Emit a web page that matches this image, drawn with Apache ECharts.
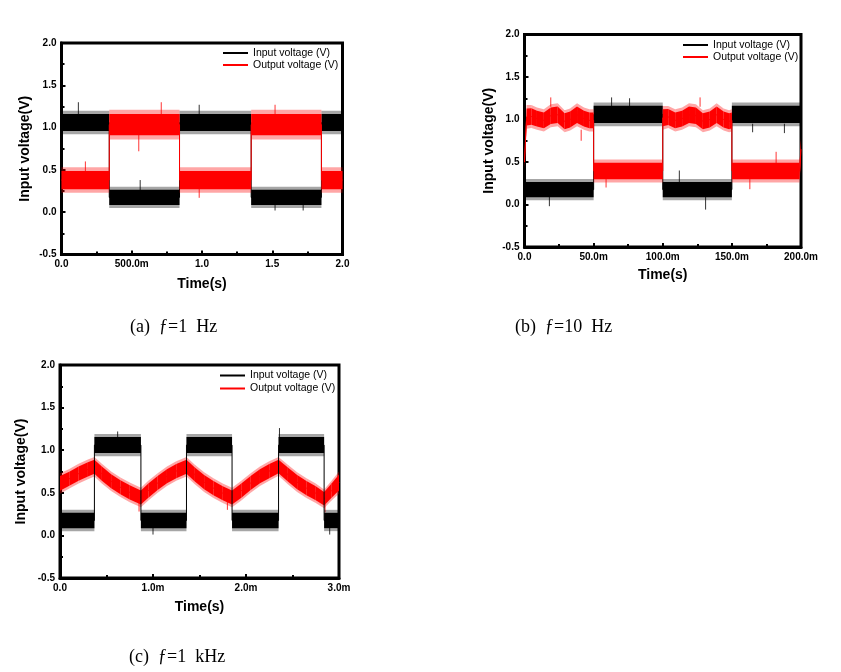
<!DOCTYPE html>
<html>
<head>
<meta charset="utf-8">
<script src="https://cdn.jsdelivr.net/npm/echarts@6/dist/echarts.min.js"></script>
<style>html,body{margin:0;padding:0;background:#fff;}#c{width:841px;height:672px;}</style>
</head>
<body>
<div id="c"></div>
<script>
// ---------- DATA ----------
const yTickLabels = ['-0.5', '0.0', '0.5', '1.0', '1.5', '2.0'];
const seriesNames = ['Input voltage (V)', 'Output voltage (V)'];
const captions = ['(a)  \u0192=1  Hz', '(b)  \u0192=10  Hz', '(c)  \u0192=1  kHz'];

// (a) f = 1 Hz, time in s ; noise envelope low/high in V
const aXLabels = ['0.0', '500.0m', '1.0', '1.5', '2.0'];
const aInT  = [0, 0.34, 0.34, 0.84, 0.84, 1.35, 1.35, 1.85, 1.85, 2.0];
const aInLo = [0.92, 0.92, 0.05, 0.05, 0.92, 0.92, 0.05, 0.05, 0.92, 0.92];
const aInHi = [1.20, 1.20, 0.30, 0.30, 1.20, 1.20, 0.30, 0.30, 1.20, 1.20];
const aOutT  = [0, 0.34, 0.34, 0.84, 0.84, 1.35, 1.35, 1.85, 1.85, 2.0];
const aOutLo = [0.23, 0.23, 0.86, 0.86, 0.23, 0.23, 0.86, 0.86, 0.23, 0.23];
const aOutHi = [0.53, 0.53, 1.21, 1.21, 0.53, 0.53, 1.21, 1.21, 0.53, 0.53];
// isolated noise spikes: time, from V, to V
const aInSpikeT = [0.12, 0.56, 0.98, 1.52, 1.72];
const aInSpikeA = [1.15, 0.25, 1.15, 0.10, 0.10];
const aInSpikeB = [1.30, 0.38, 1.27, 0.02, 0.02];
const aOutSpikeT = [0.17, 0.55, 0.71, 0.98, 1.52];
const aOutSpikeA = [0.45, 0.92, 1.15, 0.30, 1.15];
const aOutSpikeB = [0.60, 0.72, 1.30, 0.17, 1.27];

// (b) f = 10 Hz, time in ms
const bXLabels = ['0.0', '50.0m', '100.0m', '150.0m', '200.0m'];
const bInT  = [0, 50, 50, 100, 100, 150, 150, 200];
const bInLo = [0.05, 0.05, 0.92, 0.92, 0.05, 0.05, 0.92, 0.92];
const bInHi = [0.30, 0.30, 1.20, 1.20, 0.30, 0.30, 1.20, 1.20];
const bOutT  = [0, 1.5, 5, 9, 14, 19, 24, 29, 33, 38, 43, 47, 50, 50, 100, 100, 104, 109, 114, 119, 124, 129, 134, 139, 144, 148, 150, 150, 199, 200];
const bOutLo = [0.42, 0.89, 0.90, 0.88, 0.86, 0.91, 0.92, 0.85, 0.87, 0.92, 0.88, 0.86, 0.86, 0.26, 0.26, 0.88, 0.90, 0.86, 0.88, 0.92, 0.91, 0.85, 0.87, 0.92, 0.87, 0.85, 0.86, 0.26, 0.26, 0.50];
const bOutHi = [0.58, 1.17, 1.17, 1.14, 1.12, 1.18, 1.19, 1.11, 1.13, 1.19, 1.14, 1.12, 1.12, 0.53, 0.53, 1.16, 1.16, 1.12, 1.14, 1.19, 1.18, 1.11, 1.13, 1.19, 1.13, 1.11, 1.12, 0.53, 0.53, 0.80];
const bInSpikeT = [18, 63, 76, 112, 131, 165, 188];
const bInSpikeA = [0.10, 1.15, 1.15, 0.25, 0.10, 0.95, 0.95];
const bInSpikeB = [-0.02, 1.26, 1.25, 0.40, -0.06, 0.85, 0.84];
const bOutSpikeT = [19, 41, 59, 127, 163, 182];
const bOutSpikeA = [1.15, 0.88, 0.30, 1.15, 0.30, 0.48];
const bOutSpikeB = [1.26, 0.75, 0.20, 1.26, 0.18, 0.62];

// (c) f = 1 kHz, time in ms
const cXLabels = ['0.0', '1.0m', '2.0m', '3.0m'];
const cInT  = [0, 0.37, 0.37, 0.87, 0.87, 1.36, 1.36, 1.85, 1.85, 2.35, 2.35, 2.84, 2.84, 3.0];
const cInLo = [0.05, 0.05, 0.93, 0.93, 0.05, 0.05, 0.93, 0.93, 0.05, 0.05, 0.93, 0.93, 0.05, 0.05];
const cInHi = [0.30, 0.30, 1.19, 1.19, 0.30, 0.30, 1.19, 1.19, 0.30, 0.30, 1.19, 1.19, 0.30, 0.30];
const cOutT  = [0, 0.1, 0.2, 0.3, 0.37, 0.45, 0.55, 0.65, 0.75, 0.87, 0.95, 1.05, 1.15, 1.25, 1.36, 1.45, 1.55, 1.65, 1.75, 1.85, 1.95, 2.05, 2.15, 2.25, 2.35, 2.45, 2.55, 2.65, 2.75, 2.84, 2.92, 3.0];
const cOutLo = [0.49, 0.55, 0.61, 0.66, 0.69, 0.61, 0.52, 0.45, 0.39, 0.33, 0.41, 0.50, 0.58, 0.64, 0.69, 0.60, 0.51, 0.44, 0.38, 0.33, 0.41, 0.50, 0.58, 0.64, 0.70, 0.60, 0.51, 0.44, 0.38, 0.32, 0.41, 0.49];
const cOutHi = [0.73, 0.78, 0.84, 0.89, 0.92, 0.84, 0.75, 0.68, 0.62, 0.56, 0.64, 0.73, 0.81, 0.87, 0.92, 0.83, 0.74, 0.67, 0.61, 0.56, 0.64, 0.73, 0.81, 0.87, 0.92, 0.83, 0.74, 0.67, 0.61, 0.54, 0.64, 0.75];
const cInSpikeT = [0.62, 1.0, 2.36, 2.9];
const cInSpikeA = [1.15, 0.10, 1.15, 0.10];
const cInSpikeB = [1.22, 0.01, 1.26, 0.01];
const cOutSpikeT = [0.85, 1.8, 2.85];
const cOutSpikeA = [0.40, 0.40, 0.40];
const cOutSpikeB = [0.28, 0.30, 0.27];

// ---------- CHART ----------
const FONT = 'Liberation Sans';
const BLACK = '#000000', RED = '#ff0000';
const grids = [
  {left: 61.5, top: 43, width: 281, height: 211.5},
  {left: 524.5, top: 34.5, width: 276.5, height: 212.5},
  {left: 60, top: 365, width: 279, height: 213}
];
const xCfg = [
  {max: 2, interval: 0.5, labels: aXLabels, gap: 23},
  {max: 200, interval: 50, labels: bXLabels, gap: 21},
  {max: 3, interval: 1, labels: cXLabels, gap: 22}
];
const yGap = [29, 28, 32];

function bandSeries(name, gi, T, Lo, Hi, color, z) {
  return {
    type: 'custom', name: name, xAxisIndex: gi, yAxisIndex: gi, z: z, clip: true,
    itemStyle: {color: color},
    data: T.slice(0, -1).map((t, i) => [t, T[i + 1], Lo[i], Hi[i], Lo[i + 1], Hi[i + 1]]),
    encode: {x: [0, 1], y: [2, 3, 4, 5]},
    renderItem: function (params, api) {
      const t0 = api.value(0), t1 = api.value(1);
      if (!(t1 > t0)) return null;
      const l0 = api.value(2), h0 = api.value(3), l1 = api.value(4), h1 = api.value(5);
      const m0 = (l0 + h0) / 2, m1 = (l1 + h1) / 2, k = 0.72;
      const outer = [api.coord([t0, l0]), api.coord([t1, l1]), api.coord([t1, h1]), api.coord([t0, h0])];
      const inner = [api.coord([t0, m0 - (h0 - l0) / 2 * k]), api.coord([t1, m1 - (h1 - l1) / 2 * k]),
                     api.coord([t1, m1 + (h1 - l1) / 2 * k]), api.coord([t0, m0 + (h0 - l0) / 2 * k])];
      return {type: 'group', children: [
        {type: 'polygon', shape: {points: outer}, style: {fill: color, opacity: 0.35}},
        {type: 'polygon', shape: {points: inner}, style: {fill: color}}
      ]};
    }
  };
}
function midSeries(name, gi, T, Lo, Hi, color, z) {
  return {
    type: 'line', name: name, xAxisIndex: gi, yAxisIndex: gi, z: z,
    showSymbol: false, symbol: 'none', animation: false,
    lineStyle: {color: color, width: 1}, itemStyle: {color: color},
    data: T.map((t, i) => [t, (Lo[i] + Hi[i]) / 2])
  };
}
function spikeSeries(name, gi, T, A, B, color, z) {
  return {
    type: 'custom', name: name, xAxisIndex: gi, yAxisIndex: gi, z: z, clip: true,
    itemStyle: {color: color},
    data: T.map((t, i) => [t, A[i], B[i]]),
    encode: {x: 0, y: [1, 2]},
    renderItem: function (params, api) {
      const p0 = api.coord([api.value(0), api.value(1)]);
      const p1 = api.coord([api.value(0), api.value(2)]);
      return {type: 'line', shape: {x1: p0[0], y1: p0[1], x2: p1[0], y2: p1[1]},
              style: {stroke: color, lineWidth: 1, opacity: 0.8}};
    }
  };
}

const series = [
  bandSeries(seriesNames[0], 0, aInT, aInLo, aInHi, BLACK, 2), midSeries(seriesNames[0], 0, aInT, aInLo, aInHi, BLACK, 2),
  spikeSeries(seriesNames[0], 0, aInSpikeT, aInSpikeA, aInSpikeB, BLACK, 2),
  bandSeries(seriesNames[1], 0, aOutT, aOutLo, aOutHi, RED, 3), midSeries(seriesNames[1], 0, aOutT, aOutLo, aOutHi, RED, 3),
  spikeSeries(seriesNames[1], 0, aOutSpikeT, aOutSpikeA, aOutSpikeB, RED, 3),
  bandSeries(seriesNames[0], 1, bInT, bInLo, bInHi, BLACK, 2), midSeries(seriesNames[0], 1, bInT, bInLo, bInHi, BLACK, 2),
  spikeSeries(seriesNames[0], 1, bInSpikeT, bInSpikeA, bInSpikeB, BLACK, 2),
  bandSeries(seriesNames[1], 1, bOutT, bOutLo, bOutHi, RED, 3), midSeries(seriesNames[1], 1, bOutT, bOutLo, bOutHi, RED, 3),
  spikeSeries(seriesNames[1], 1, bOutSpikeT, bOutSpikeA, bOutSpikeB, RED, 3),
  bandSeries(seriesNames[1], 2, cOutT, cOutLo, cOutHi, RED, 2), midSeries(seriesNames[1], 2, cOutT, cOutLo, cOutHi, RED, 2),
  spikeSeries(seriesNames[1], 2, cOutSpikeT, cOutSpikeA, cOutSpikeB, RED, 2),
  bandSeries(seriesNames[0], 2, cInT, cInLo, cInHi, BLACK, 3), midSeries(seriesNames[0], 2, cInT, cInLo, cInHi, BLACK, 3),
  spikeSeries(seriesNames[0], 2, cInSpikeT, cInSpikeA, cInSpikeB, BLACK, 3)
];

const tickStyle = {show: true, inside: true, length: 4, lineStyle: {color: '#000', width: 2}};
const minorStyle = {show: true, splitNumber: 2, length: 3, lineStyle: {color: '#000', width: 2}};
const labelBase = {color: '#000', fontFamily: FONT, fontWeight: 'bold', fontSize: 10};
const nameStyle = {color: '#000', fontFamily: FONT, fontWeight: 'bold', fontSize: 14};

const xAxis = xCfg.map((c, gi) => ({
  type: 'value', gridIndex: gi, min: 0, max: c.max, interval: c.interval, position: 'bottom',
  name: 'Time(s)', nameLocation: 'middle', nameGap: c.gap, nameTextStyle: nameStyle,
  axisLine: {show: true, onZero: false, lineStyle: {color: '#000', width: 3}},
  axisTick: tickStyle, minorTick: minorStyle, splitLine: {show: false},
  axisLabel: Object.assign({margin: 5, showMaxLabel: true, showMinLabel: true,
    formatter: v => c.labels[Math.round(v / c.interval)]}, labelBase)
}));
const yAxis = grids.map((g, gi) => ({
  type: 'value', gridIndex: gi, min: -0.5, max: 2, interval: 0.5, position: 'left',
  name: 'Input voltage(V)', nameLocation: 'middle', nameGap: yGap[gi], nameTextStyle: nameStyle,
  axisLine: {show: true, onZero: false, lineStyle: {color: '#000', width: 3}},
  axisTick: tickStyle, minorTick: minorStyle, splitLine: {show: false},
  axisLabel: Object.assign({margin: 5, showMaxLabel: true, showMinLabel: true,
    formatter: v => yTickLabels[Math.round((v + 0.5) / 0.5)]}, labelBase)
}));

const legendPos = [
  {left: 223, top: 47, lh: 12},
  {left: 683, top: 39, lh: 12},
  {left: 220, top: 369, lh: 13}
];
const legend = legendPos.map(p => ({
  left: p.left, top: p.top, orient: 'vertical', itemGap: 0, padding: 0,
  itemWidth: 25, itemHeight: 2, selectedMode: false,
  textStyle: {color: '#000', fontFamily: FONT, fontSize: 10.5, lineHeight: p.lh},
  data: [
    {name: seriesNames[0], icon: 'rect', itemStyle: {color: BLACK}},
    {name: seriesNames[1], icon: 'rect', itemStyle: {color: RED}}
  ]
}));

const capPos = [{left: 130, top: 318}, {left: 515, top: 318}, {left: 129, top: 648}];
const graphic = captions.map((t, i) => ({
  type: 'text', left: capPos[i].left, top: capPos[i].top,
  style: {text: t, fill: '#000', font: '18px "Liberation Serif"'}
}));

const chart = echarts.init(document.getElementById('c'), null, {renderer: 'canvas'});
chart.setOption({
  animation: false,
  backgroundColor: '#fff',
  grid: grids.map(g => Object.assign({show: true, borderColor: '#000', borderWidth: 3, backgroundColor: 'transparent'}, g)),
  xAxis: xAxis, yAxis: yAxis, legend: legend, series: series, graphic: graphic
});
</script>
</body>
</html>
